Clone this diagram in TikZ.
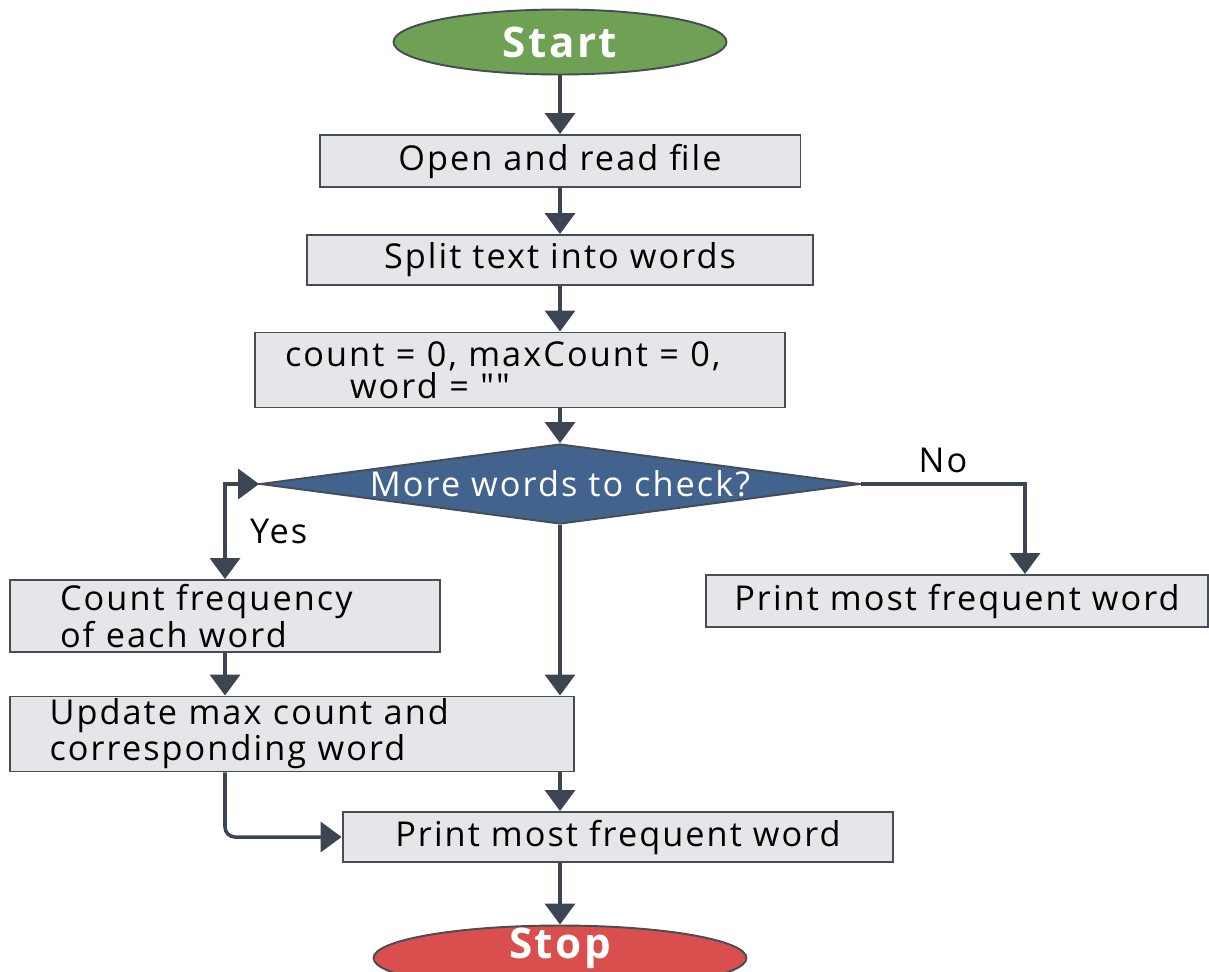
\documentclass[tikz,border=0pt]{standalone}
\usepackage{fontspec}
\setmainfont{Open Sans}[LetterSpace=6]
\newfontfamily\plainquotes{Open Sans}[LetterSpace=6,Ligatures=TeXOff]
\usetikzlibrary{shapes.geometric,arrows.meta}
\setlength{\lineskiplimit}{-6pt}

\definecolor{boxgray}{HTML}{E5E6E9}
\definecolor{boxline}{HTML}{474C55}
\definecolor{flowgray}{HTML}{3E4552}
\definecolor{startgreen}{HTML}{6FA155}
\definecolor{stopred}{HTML}{D94F4E}
\definecolor{chkblue}{HTML}{41638E}

\begin{document}
\begin{tikzpicture}[x=0.02cm,y=-0.02cm,>={Triangle[length=0.42cm,width=0.6cm]},
        every node/.style={font=\fontsize{19.5}{18.5}\selectfont},
        process/.style={rectangle,draw=boxline,line width=1.1pt,fill=boxgray,inner sep=0pt},
        terminal/.style={ellipse,draw=boxline,line width=1.1pt,text=white,inner sep=0pt,
            font=\fontsize{24}{28}\selectfont\bfseries},
        decision/.style={diamond,draw=boxline,line width=1.1pt,fill=chkblue,text=white,inner sep=0pt},
        flow/.style={->,draw=flowgray,line width=2pt}]
        \clip (0,0) rectangle (1209,971);

        \node[terminal,fill=startgreen,minimum width=6.66cm,minimum height=1.3cm] (start) at (560,42) {Start};
        \node[process,minimum width=9.62cm,minimum height=1.04cm] (open) at (560,161) {Open and read file};
        \node[process,minimum width=10.14cm,minimum height=1cm] (split) at (560,260) {Split text into words};
        \node[process,minimum width=10.62cm,minimum height=1.5cm,text width=9.4cm,align=left] (init) at (520,370)
            {count = 0, maxCount = 0,\\\hspace{1.3cm}word = {\plainquotes ""}};
        \node[decision,minimum width=12cm,minimum height=1.6cm] (chk) at (560,484)
            {\makebox[0pt]{More words to check?}};
        \node[process,minimum width=8.6cm,minimum height=1.44cm,text width=6.6cm,align=left] (freq) at (225,616)
            {Count frequency\\of each word};
        \node[process,minimum width=11.3cm,minimum height=1.5cm,text width=9.7cm,align=left] (upd) at (292,734)
            {Update max count and\\corresponding word};
        \node[process,minimum width=10.04cm,minimum height=1.04cm] (outR) at (957,601) {Print most frequent word};
        \node[process,minimum width=11.02cm,minimum height=1cm] (out) at (618,837) {Print most frequent word};
        \node[terminal,fill=stopred,minimum width=7.46cm,minimum height=1.3cm] (stop) at (560,958) {\smash{Stop}};

        \draw[flow] (start) -- (open);
        \draw[flow] (open) -- (split);
        \draw[flow] (split) -- (split |- init.north);
        \draw[flow] (init.south -| chk.north) -- (chk.north);
        \draw[flow,<->] (chk.west) -| (freq.north) node[pos=0.75,right=0.35cm] {Yes};
        \draw[flow] (chk.east) -| ([xshift=1.36cm]outR.north) node[pos=0.25,above=2pt] {No};
        \draw[flow] (freq) -- (upd.north -| freq.south);
        \draw[flow] (chk.south) -- (chk.south |- upd.north);
        \draw[flow] (upd.south -| chk.south) -- (chk.south |- out.north);
        \draw[flow,rounded corners=0.2cm] (upd.south -| freq.south) |- (out.west);
        \draw[flow] (out.south -| stop.north) -- (stop.north);
\end{tikzpicture}
\end{document}
